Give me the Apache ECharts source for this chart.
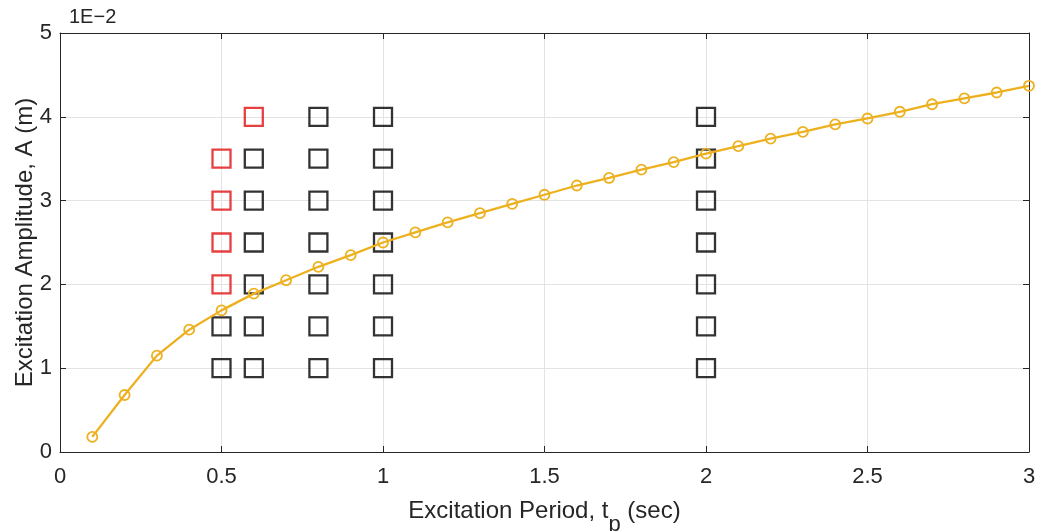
<!DOCTYPE html>
<html>
<head>
<meta charset="utf-8">
<script src="https://cdn.jsdelivr.net/npm/echarts@6/dist/echarts.min.js"></script>
<style>html,body{margin:0;padding:0;background:#fff}#c{width:1039px;height:531px}</style>
</head>
<body>
<div id="c"></div>
<script>
// Curve: excitation period (s) vs amplitude (×1E-2 m)
const periods = [0.1,0.2,0.3,0.4,0.5,0.6,0.7,0.8,0.9,1.0,1.1,1.2,1.3,1.4,1.5,1.6,1.7,1.8,1.9,2.0,2.1,2.2,2.3,2.4,2.5,2.6,2.7,2.8,2.9,3.0];
const amplitudes = [0.18,0.68,1.15,1.46,1.69,1.89,2.05,2.21,2.35,2.50,2.62,2.74,2.85,2.96,3.07,3.18,3.27,3.37,3.46,3.56,3.65,3.74,3.82,3.91,3.98,4.06,4.15,4.22,4.29,4.37];
// Test points (square markers)
const blackX = [0.5,0.5, 0.6,0.6,0.6,0.6,0.6,0.6, 0.8,0.8,0.8,0.8,0.8,0.8,0.8, 1,1,1,1,1,1,1, 2,2,2,2,2,2,2];
const blackY = [1,1.5, 1,1.5,2,2.5,3,3.5, 1,1.5,2,2.5,3,3.5,4, 1,1.5,2,2.5,3,3.5,4, 1,1.5,2,2.5,3,3.5,4];
const redX = [0.5,0.5,0.5,0.5,0.6];
const redY = [2,2.5,3,3.5,4];
const xTicks = [0,0.5,1,1.5,2,2.5,3];
const yTicks = [0,1,2,3,4,5];

const font = '"Liberation Sans", Arial, sans-serif';
const axisCol = '#262626';
const chart = echarts.init(document.getElementById('c'));
const zip = (a,b) => a.map((v,i)=>[v,b[i]]);
const baseAxis = {
  axisLine:{show:true,onZero:false,lineStyle:{color:axisCol,width:1}},
  axisTick:{show:true,inside:true,length:6,lineStyle:{color:axisCol}},
  axisLabel:{show:false},
  splitLine:{show:false}
};
chart.setOption({
  animation:false,
  backgroundColor:'#fff',
  grid:{left:60,right:10,top:33,bottom:79,containLabel:false,outerBoundsMode:'none'},
  xAxis:[
    Object.assign({}, baseAxis, {type:'value',min:0,max:3,interval:0.5,position:'bottom',
      axisLabel:{show:true,color:axisCol,fontFamily:font,fontSize:22,margin:14,formatter:v=>xTicks.includes(v)?String(v):''},
      splitLine:{show:true,lineStyle:{color:'#e3e3e3',width:1}},
      name:'{a|Excitation Period, t}{s|p}{a| (sec)}',nameLocation:'middle',nameGap:47,nameMoveOverlap:false,
      nameTextStyle:{rich:{
        a:{fontFamily:font,fontSize:24,color:axisCol,lineHeight:28,verticalAlign:'top'},
        s:{fontFamily:font,fontSize:22,color:axisCol,lineHeight:28,verticalAlign:'top',padding:[15,0,0,0]}}}
    }),
    Object.assign({}, baseAxis, {type:'value',min:0,max:3,interval:0.5,position:'top'})
  ],
  yAxis:[
    Object.assign({}, baseAxis, {type:'value',min:0,max:5,interval:1,position:'left',
      axisLabel:{show:true,color:axisCol,fontFamily:font,fontSize:22,margin:8,formatter:v=>yTicks.includes(v)?String(v):''},
      splitLine:{show:true,lineStyle:{color:'#e3e3e3',width:1}},
      name:'Excitation Amplitude, A (m)',nameLocation:'middle',nameGap:23,nameRotate:90,nameMoveOverlap:false,
      nameTextStyle:{fontFamily:font,fontSize:24,color:axisCol}
    }),
    Object.assign({}, baseAxis, {type:'value',min:0,max:5,interval:1,position:'right'})
  ],
  graphic:[{type:'text',left:69,top:7,style:{text:'1E\u22122',fontFamily:font,fontSize:20,fill:axisCol}}],
  series:[
    {type:'scatter',data:zip(blackX,blackY),symbol:'rect',symbolSize:18,
      itemStyle:{color:'rgba(0,0,0,0)',borderColor:'#000',borderWidth:2.3},z:2},
    {type:'scatter',data:zip(redX,redY),symbol:'rect',symbolSize:18,
      itemStyle:{color:'rgba(0,0,0,0)',borderColor:'#e01010',borderWidth:2.3},z:2},
    {type:'line',data:zip(periods,amplitudes),symbol:'circle',symbolSize:10,showAllSymbol:true,
      lineStyle:{color:'#EDB120',width:2.3},
      itemStyle:{color:'rgba(255,255,255,0)',borderColor:'#EDB120',borderWidth:1.8},z:3}
  ]
});
</script>
</body>
</html>
